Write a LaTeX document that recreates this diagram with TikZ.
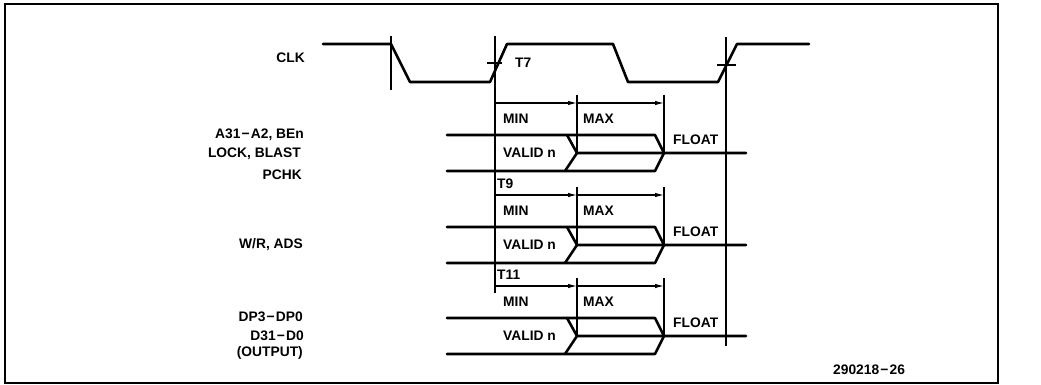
\documentclass[tikz,border=0pt]{standalone}
\usepackage{fontspec}
\setmainfont{Liberation Sans}
\usetikzlibrary{arrows.meta}
\newcommand{\dsh}{\kern1.2pt−\kern1.2pt}
\begin{document}
\begin{tikzpicture}[x=1pt,y=-1pt,
  sig/.style={line width=2.6pt, line cap=round, line join=round},
  thinline/.style={line width=1.1pt},
  frameline/.style={line width=1.4pt},
  lbl/.style={font=\fontsize{13.8}{16}\selectfont\bfseries, inner sep=0pt, anchor=west},
  signame/.style={font=\fontsize{13.8}{16}\selectfont\bfseries, inner sep=0pt, anchor=east},
  meas/.style={thinline, -{Latex[length=9pt,width=4.5pt]}}]
\useasboundingbox (0,0) rectangle (1041,385);
\draw[frameline] (5,4) rectangle (998,383);

% clock waveform
\coordinate (c0) at (323,44);
\coordinate (c1) at (391,44);
\coordinate (c2) at (410,82);
\coordinate (c3) at (490,82);
\coordinate (c4) at (507,44);
\coordinate (c5) at (613,44);
\coordinate (c6) at (628,82);
\coordinate (c7) at (718,82);
\coordinate (c8) at (737,44);
\coordinate (c9) at (809,44);
\draw[sig] (c0) -- (c1) -- (c2) -- (c3) -- (c4) -- (c5) -- (c6) -- (c7) -- (c8) -- (c9);

% reference lines
\coordinate (f0a) at (391,36); \coordinate (f0b) at (391,90);
\draw[thinline] (f0a) -- (f0b);
\coordinate (r1a) at (495,36); \coordinate (r1b) at (495,293);
\draw[thinline] (r1a) -- (r1b);
\coordinate (x1a) at (487,63); \coordinate (x1b) at (502,63);
\draw[thinline] (x1a) -- (x1b);
\coordinate (r2a) at (726,37); \coordinate (r2b) at (726,346);
\draw[thinline] (r2a) -- (r2b);
\coordinate (x2a) at (717,65); \coordinate (x2b) at (736,65);
\draw[thinline] (x2a) -- (x2b);
\node[lbl] (t7) at (515,63) {T7};

% signal names
\node[signame] (clk) at (305,58) {CLK};
\node[signame] (a31) at (304,135) {A31\dsh A2, BEn};
\node[signame] (lock) at (301,154) {LOCK, BLAST};
\node[signame] (pchk) at (302,175) {PCHK};
\node[signame] (wr) at (303,245) {W/R, ADS};
\node[signame] (dp) at (303,317) {DP3\dsh DP0};
\node[signame] (d31) at (304,336) {D31\dsh D0};
\node[signame] (outp) at (303,353) {(OUTPUT)};

% bus rows
\foreach \ya [count=\r] in {103,195,286} {
  \coordinate (s\r) at (495,\ya);
  \coordinate (m\r) at (577,\ya);
  \coordinate (e\r) at (664,\ya);
  \coordinate (mt\r) at (577,\ya-8);
  \coordinate (et\r) at (664,\ya-8);
  \coordinate (ma\r) at (577,\ya+50);
  \coordinate (ea\r) at (664,\ya+50);
  \draw[meas] (s\r) -- (m\r);
  \draw[meas] (m\r) -- (e\r);
  \draw[thinline] (mt\r) -- (ma\r);
  \draw[thinline] (et\r) -- (ea\r);
  \node[lbl] (min\r) at (503,\ya+16) {MIN};
  \node[lbl] (max\r) at (583,\ya+16) {MAX};
  \draw[sig] (447,\ya+32) -- (655,\ya+32) -- (ea\r) -- (746,\ya+50);
  \draw[sig] (447,\ya+68) -- (655,\ya+68) -- (ea\r);
  \draw[sig] (567,\ya+32) -- (ma\r) -- (ea\r);
  \draw[sig] (565,\ya+68) -- (ma\r);
  \node[lbl] (valid\r) at (503,\ya+50) {VALID n};
  \node[lbl] (float\r) at (673,\ya+37) {FLOAT};
}
\node[lbl] (t9) at (497,184) {T9};
\node[lbl] (t11) at (497,275) {T11};
\node[lbl] (cap) at (833,370) {290218\dsh 26};
\end{tikzpicture}
\end{document}
